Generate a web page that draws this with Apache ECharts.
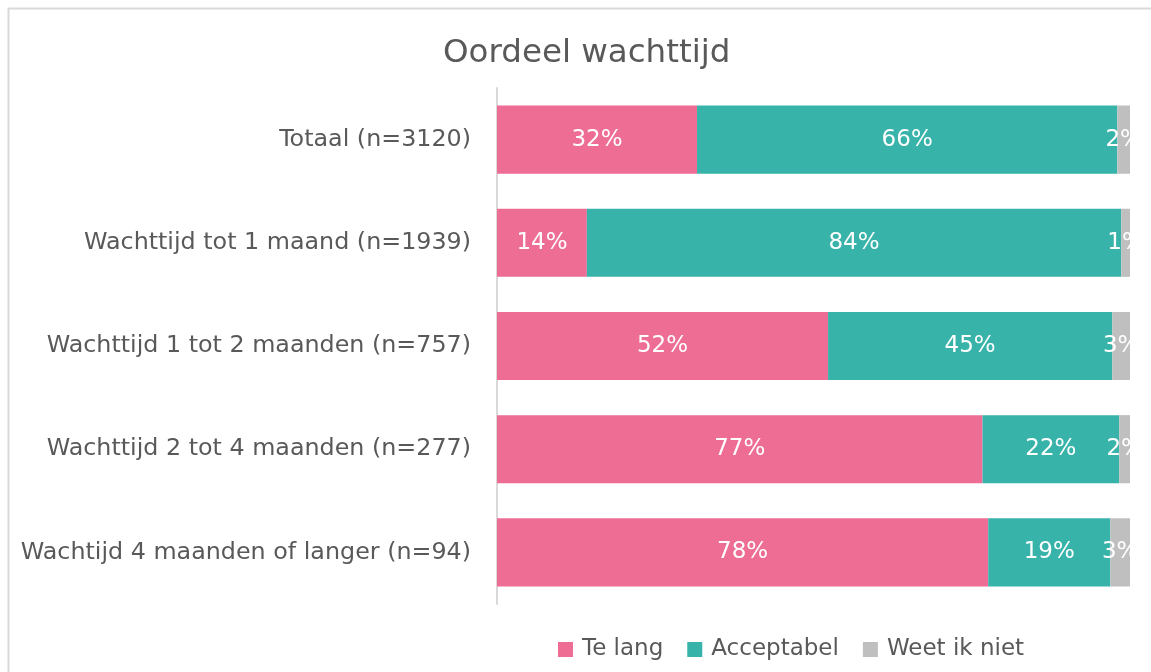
<!DOCTYPE html>
<html>
<head>
<meta charset="utf-8">
<script src="https://cdn.jsdelivr.net/npm/echarts@6/dist/echarts.min.js"></script>
<style>
  html, body { margin: 0; padding: 0; background: #fff; }
  #chart { width: 1151px; height: 672px; }
</style>
</head>
<body>
<div id="chart"></div>
<script>
const categories = [
  'Totaal (n=3120)',
  'Wachttijd tot 1 maand (n=1939)',
  'Wachttijd 1 tot 2 maanden (n=757)',
  'Wachttijd 2 tot 4 maanden (n=277)',
  'Wachtijd 4 maanden of langer (n=94)'
]
const teLang = [31.6, 14.2, 52.3, 76.7, 77.6]
const acceptabel = [66.4, 84.4, 44.9, 21.6, 19.3]
const weetIkNiet = [2.0, 1.4, 2.8, 1.7, 3.1]

const font = 'DejaVu Sans'
const textColor = '#595959'

const chart = echarts.init(document.getElementById('chart'))

const labelStyle = {
  show: true,
  position: 'inside',
  color: '#fff',
  fontFamily: font,
  fontSize: 23,
  formatter: (p) => Math.round(p.value) + '%'
}

const mkSeries = (name, data, color) => ({
  name,
  type: 'bar',
  stack: 'total',
  data,
  barCategoryGap: '34%',
  itemStyle: { color },
  label: labelStyle,
  emphasis: { disabled: true }
})

chart.setOption({
  animation: false,
  title: {
    text: 'Oordeel wachttijd',
    left: 438,
    top: 32,
    textStyle: { fontFamily: font, fontSize: 32.5, fontWeight: 'normal', color: textColor }
  },
  legend: {
    bottom: 6,
    left: 553,
    itemWidth: 15,
    itemHeight: 15,
    itemGap: 24,
    icon: 'rect',
    textStyle: { fontFamily: font, fontSize: 23, color: textColor, padding: [0, 0, 0, 4] }
  },
  grid: { left: 497, right: 21, top: 88, bottom: 68 },
  xAxis: {
    type: 'value',
    min: 0,
    max: 100,
    show: false
  },
  yAxis: {
    type: 'category',
    inverse: true,
    data: categories,
    axisLine: { show: true, lineStyle: { color: '#d9d9d9', width: 2 } },
    axisTick: { show: false },
    axisLabel: { fontFamily: font, fontSize: 23.8, color: textColor, margin: 26 }
  },
  series: [
    mkSeries('Te lang', teLang, '#ED6D95'),
    mkSeries('Acceptabel', acceptabel, '#37B3AA'),
    mkSeries('Weet ik niet', weetIkNiet, '#BFBFBF')
  ],
  graphic: [
    {
      // cover label overflow past the plot area, like the original
      type: 'rect',
      right: 0,
      top: 80,
      shape: { width: 20, height: 530 },
      style: { fill: '#fff' },
      z: 100
    },
    {
      type: 'rect',
      left: 6,
      top: 6,
      shape: { width: 1200, height: 700 },
      style: { fill: 'none', stroke: '#d9d9d9', lineWidth: 2 },
      z: 101
    }
  ]
})
</script>
</body>
</html>
